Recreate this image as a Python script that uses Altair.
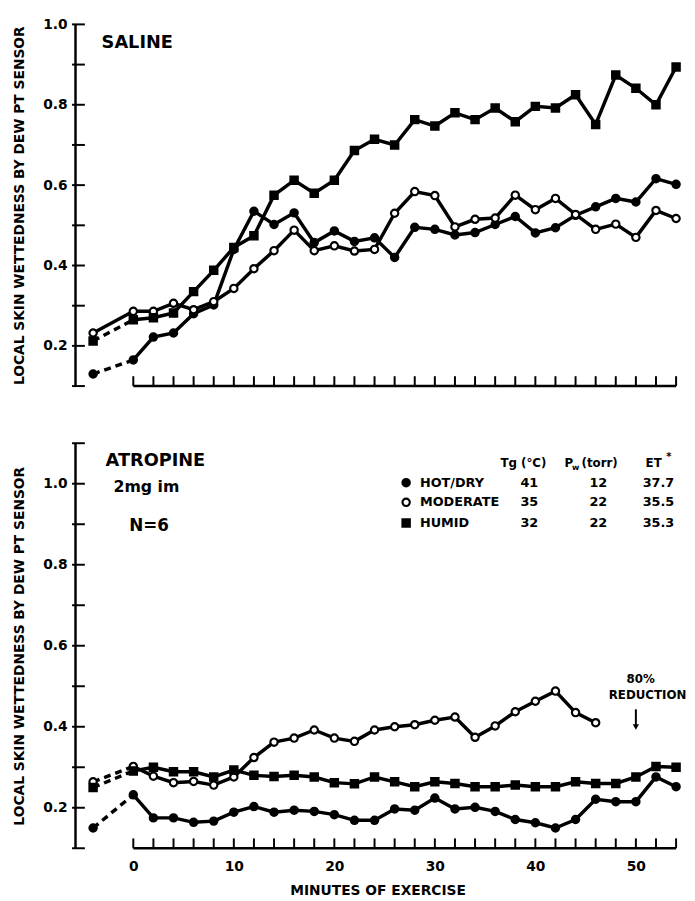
import altair as alt
import pandas as pd

FONT = "DejaVu Sans"

minutes = [-4, 0, 2, 4, 6, 8, 10, 12, 14, 16, 18, 20, 22, 24, 26, 28, 30,
           32, 34, 36, 38, 40, 42, 44, 46, 48, 50, 52, 54]
series_names = ["HOT/DRY", "MODERATE", "HUMID"]

saline_hot_dry = [0.13, 0.165, 0.222, 0.232, 0.28, 0.302, 0.44, 0.535, 0.502, 0.531,
                  0.457, 0.486, 0.46, 0.469, 0.42, 0.495, 0.49, 0.476, 0.482, 0.502,
                  0.522, 0.481, 0.494, 0.525, 0.546, 0.567, 0.558, 0.616, 0.602]
saline_moderate = [0.232, 0.286, 0.286, 0.306, 0.29, 0.31, 0.343, 0.392, 0.437, 0.488,
                   0.437, 0.449, 0.436, 0.44, 0.53, 0.584, 0.574, 0.496, 0.515, 0.518,
                   0.575, 0.539, 0.567, 0.527, 0.49, 0.503, 0.47, 0.537, 0.517]
saline_humid = [0.212, 0.265, 0.27, 0.282, 0.335, 0.388, 0.445, 0.474, 0.575, 0.612,
                0.58, 0.612, 0.686, 0.714, 0.70, 0.763, 0.747, 0.78, 0.763, 0.792,
                0.758, 0.796, 0.792, 0.825, 0.751, 0.874, 0.841, 0.80, 0.894]

atropine_hot_dry = [0.15, 0.232, 0.175, 0.175, 0.164, 0.167, 0.189, 0.203, 0.189, 0.194,
                    0.191, 0.183, 0.169, 0.169, 0.197, 0.194, 0.224, 0.197, 0.201, 0.191,
                    0.171, 0.163, 0.15, 0.171, 0.221, 0.215, 0.215, 0.276, 0.252]
atropine_moderate = [0.264, 0.302, 0.278, 0.262, 0.265, 0.256, 0.276, 0.324, 0.362, 0.372,
                     0.392, 0.372, 0.364, 0.392, 0.40, 0.405, 0.416, 0.424, 0.374, 0.402,
                     0.437, 0.463, 0.488, 0.435, 0.41]
atropine_humid = [0.25, 0.291, 0.30, 0.289, 0.289, 0.276, 0.293, 0.28, 0.277, 0.28,
                  0.276, 0.262, 0.259, 0.276, 0.264, 0.252, 0.264, 0.26, 0.252, 0.252,
                  0.256, 0.252, 0.252, 0.264, 0.26, 0.26, 0.276, 0.302, 0.30]

legend_tg = ["41", "35", "32"]
legend_pw = ["12", "22", "22"]
legend_et = ["37.7", "35.5", "35.3"]

x_label_values = [0, 10, 20, 30, 40, 50]
x_tick_values = [0, 2, 4, 6, 8, 10, 12, 14, 16, 18, 20, 22, 24, 26, 28, 30, 32, 34,
                 36, 38, 40, 42, 44, 46, 48, 50, 52, 54]
y_tick_saline = [0.1, 0.2, 0.3, 0.4, 0.5, 0.6, 0.7, 0.8, 0.9, 1.0]
y_tick_atropine = [0.1, 0.2, 0.3, 0.4, 0.5, 0.6, 0.7, 0.8, 0.9, 1.0, 1.1]

Y_TITLE = "LOCAL SKIN WETTEDNESS BY DEW PT SENSOR"
X_DOMAIN = [-5.8, 54.4]
WIDTH = 614
SHAPES = ["circle", "circle", "square"]
FILLS = ["black", "white", "black"]


def long_frame(values_by_series):
    rows = []
    for name, vals in values_by_series.items():
        for t, v in zip(minutes, vals):
            rows.append({"t": t, "v": v, "series": name})
    return pd.DataFrame(rows)


def text_layer(txt, x, y, size, align="left", weight="bold"):
    return alt.Chart(pd.DataFrame({"txt": [txt]})).mark_text(
        font=FONT, fontSize=size, fontWeight=weight, align=align,
        baseline="middle", color="black"
    ).encode(x=alt.value(x), y=alt.value(y), text="txt:N")


def shape_enc():
    return alt.Shape("series:N", scale=alt.Scale(domain=series_names, range=SHAPES),
                     legend=None)


def fill_enc():
    return alt.Fill("series:N", scale=alt.Scale(domain=series_names, range=FILLS),
                    legend=None)


def panel(df, y_domain, y_ticks, height, dashed_series, show_x_labels, extras):
    xs = alt.Scale(domain=X_DOMAIN, nice=False, zero=False)
    ys = alt.Scale(domain=y_domain, nice=False, zero=False)
    if show_x_labels:
        x_axis = alt.Axis(values=x_label_values, domain=False, ticks=False, tickSize=0,
                          grid=False, labelPadding=12, title="MINUTES OF EXERCISE",
                          titlePadding=10, labelFontSize=14, titleFontSize=14)
    else:
        x_axis = None
    y_axis = alt.Axis(
        values=y_ticks, grid=False, ticks=False, tickSize=0, domain=True,
        domainColor="black", domainWidth=2.5, labelPadding=8,
        labelExpr="indexof(['0.2','0.4','0.6','0.8','1.0'], format(datum.value,'.1f')) >= 0 ? format(datum.value,'.1f') : ''",
        title=Y_TITLE, titlePadding=16, labelFontSize=14, titleFontSize=14,
    )
    x_enc = alt.X("t:Q", scale=xs, axis=x_axis)
    y_enc = alt.Y("v:Q", scale=ys, axis=y_axis)

    main = df[df["t"] >= 0]
    pre = df[df["t"] <= 0]
    pre_dashed = pre[pre["series"].isin(dashed_series)]
    pre_solid = pre[~pre["series"].isin(dashed_series)]

    layers = []
    layers.append(alt.Chart(main).mark_line(color="black", strokeWidth=3.5).encode(
        x=x_enc, y=y_enc, detail="series:N"))
    layers.append(alt.Chart(pre_dashed).mark_line(color="black", strokeWidth=3.5,
                                                  strokeDash=[7, 5]).encode(
        x=alt.X("t:Q", scale=xs), y=alt.Y("v:Q", scale=ys), detail="series:N"))
    if len(pre_solid):
        layers.append(alt.Chart(pre_solid).mark_line(color="black", strokeWidth=3.5).encode(
            x=alt.X("t:Q", scale=xs), y=alt.Y("v:Q", scale=ys), detail="series:N"))
    layers.append(alt.Chart(df).mark_point(filled=True, stroke="black", strokeWidth=2.2,
                                           size=55, opacity=1).encode(
        x=alt.X("t:Q", scale=xs), y=alt.Y("v:Q", scale=ys),
        shape=shape_enc(), fill=fill_enc()))
    # x axis base line and upward ticks
    base = pd.DataFrame({"a": [min(x_tick_values)], "b": [max(x_tick_values)]})
    layers.append(alt.Chart(base).mark_rule(color="black", strokeWidth=2.5).encode(
        x=alt.X("a:Q", scale=xs), x2="b:Q", y=alt.value(height)))
    layers.append(alt.Chart(pd.DataFrame({"t": x_tick_values})).mark_rule(
        color="black", strokeWidth=2).encode(
        x=alt.X("t:Q", scale=xs), y=alt.value(height), y2=alt.value(height - 10)))
    # y ticks, mostly inward
    layers.append(alt.Chart(pd.DataFrame({"v": y_ticks})).mark_rule(
        color="black", strokeWidth=2).encode(
        y=alt.Y("v:Q", scale=ys), x=alt.value(-3), x2=alt.value(10)))
    layers.extend(extras)
    return alt.layer(*layers).properties(width=WIDTH, height=height)


saline_df = long_frame({"HOT/DRY": saline_hot_dry, "MODERATE": saline_moderate,
                        "HUMID": saline_humid})
atropine_df = long_frame({"HOT/DRY": atropine_hot_dry, "MODERATE": atropine_moderate,
                          "HUMID": atropine_humid})

top_extras = [text_layer("SALINE", 27, 19, 18)]

# legend table in the atropine panel
legend_layers = [
    text_layer("Tg (°C)", 455, 20, 12, align="center"),
    text_layer("P", 501, 20, 12, align="center"),
    text_layer("w", 508, 25, 8, align="center"),
    text_layer("(torr)", 514, 20, 12, align="left"),
    text_layer("ET", 579, 20, 12, align="left"),
    text_layer("*", 600, 14, 10, align="left"),
]
row_y = [40, 60, 81]
legend_df = pd.DataFrame({"series": series_names})
for i, name in enumerate(series_names):
    legend_layers.append(text_layer(name, 350, row_y[i], 13))
    legend_layers.append(text_layer(legend_tg[i], 461, row_y[i], 13, align="center"))
    legend_layers.append(text_layer(legend_pw[i], 531, row_y[i], 13, align="center"))
    legend_layers.append(text_layer(legend_et[i], 592, row_y[i], 13, align="center"))
    legend_layers.append(
        alt.Chart(legend_df[legend_df["series"] == name]).mark_point(
            filled=True, stroke="black", strokeWidth=2.2, size=55, opacity=1).encode(
            x=alt.value(336), y=alt.value(row_y[i]),
            shape=shape_enc(), fill=fill_enc()))

arrow_df = pd.DataFrame({"t": [50]})
xs_bottom = alt.Scale(domain=X_DOMAIN, nice=False, zero=False)
bottom_extras = [
    text_layer("ATROPINE", 31, 18, 18),
    text_layer("2mg im", 39, 44, 16),
    text_layer("N=6", 55, 84, 17),
    text_layer("80%", 574, 239, 12, align="center"),
    text_layer("REDUCTION", 581, 256, 12, align="center"),
    alt.Chart(arrow_df).mark_rule(color="black", strokeWidth=2).encode(
        x=alt.X("t:Q", scale=xs_bottom), y=alt.value(270), y2=alt.value(286)),
    alt.Chart(arrow_df).mark_point(shape="triangle-down", filled=True, color="black",
                                   size=40, opacity=1).encode(
        x=alt.X("t:Q", scale=xs_bottom), y=alt.value(288)),
] + legend_layers

top = panel(saline_df, [0.1, 1.0], y_tick_saline, 367, ["HOT/DRY", "HUMID"], False,
            top_extras)
bottom = panel(atropine_df, [0.1, 1.1], y_tick_atropine, 411,
               ["HOT/DRY", "MODERATE", "HUMID"], True, bottom_extras)

chart = alt.vconcat(top, bottom, spacing=55).properties(
    padding={"left": 5, "top": 3, "right": 0, "bottom": 5}
).configure_view(stroke=None).configure_axis(
    labelFont=FONT, labelFontWeight="bold", labelColor="black",
    titleFont=FONT, titleFontWeight="bold", titleColor="black"
)

chart.save("out.html", embed_options={"renderer": "svg", "actions": False})
